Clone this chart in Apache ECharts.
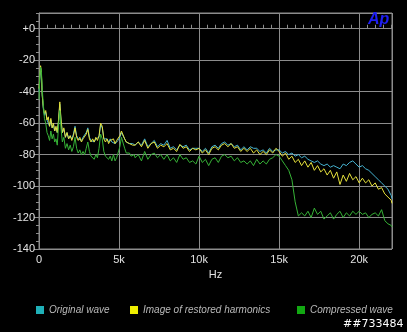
<!DOCTYPE html>
<html>
<head>
<meta charset="utf-8">
<script src="https://cdn.jsdelivr.net/npm/echarts@6/dist/echarts.min.js"></script>
<style>
  html, body { margin: 0; padding: 0; background: #000; }
  #chart { width: 407px; height: 332px; }
</style>
</head>
<body>
<div id="chart"></div>
<script>
// Frequency bins (Hz) of the spectrum trace: fine spacing below 6 kHz, 200 Hz above
const freqHz = [
  0, 50, 100, 150, 200, 270, 340, 420, 500, 580, 660, 740, 820, 900, 980, 1060, 1140, 1220, 1300, 1380,
  1460, 1550, 1650, 1750, 1850, 1950, 2050, 2150, 2250, 2350, 2450, 2550, 2650, 2750, 2850, 2950, 3050, 3150,
  3250, 3350, 3450, 3550, 3650, 3750, 3850, 3950, 4050, 4150, 4250, 4350, 4450, 4550, 4650, 4750, 4850, 4950,
  5050, 5150, 5250, 5350, 5450, 5550, 5650, 5750, 5850, 5950,
  6000, 6200, 6400, 6600, 6800, 7000, 7200, 7400, 7600, 7800,
  8000, 8200, 8400, 8600, 8800, 9000, 9200, 9400, 9600, 9800,
  10000, 10200, 10400, 10600, 10800, 11000, 11200, 11400, 11600, 11800,
  12000, 12200, 12400, 12600, 12800, 13000, 13200, 13400, 13600, 13800,
  14000, 14200, 14400, 14600, 14800, 15000, 15200, 15400, 15600, 15800,
  16000, 16200, 16400, 16600, 16800, 17000, 17200, 17400, 17600, 17800,
  18000, 18200, 18400, 18600, 18800, 19000, 19200, 19400, 19600, 19800,
  20000, 20200, 20400, 20600, 20800, 21000, 21200, 21400, 21600, 21800,
  22000, 22050
];

// Level (dB) of the original wave
const originalDb = [
  -40, -32, -25, -29, -42, -51, -55, -53, -58, -57, -62, -58, -63, -61, -65, -63, -66, -59, -48, -59,
  -66, -64, -69, -66, -70, -68, -70, -67, -62, -68, -70, -69, -71, -69, -70, -66, -63, -69,
  -71, -70, -72, -70, -71, -69, -61, -63, -70, -71, -70, -72, -70, -72, -71, -73, -72, -71,
  -69, -66, -65, -70, -72, -72, -73, -72, -73, -73,
  -74, -72, -74, -70, -75, -73, -71, -75, -73, -74,
  -71, -76, -75, -77, -74, -75, -74, -77, -76, -76,
  -76, -78, -76, -79, -75, -74, -76, -73, -72, -74,
  -73, -75, -74, -77, -75, -77, -75, -76, -76, -78,
  -77, -79, -76, -78, -77, -77, -79, -78, -80, -79,
  -81, -80, -82, -81, -83, -84, -85, -84, -86, -87,
  -86, -88, -87, -88, -89, -86, -87, -85, -84, -86,
  -88, -87, -89, -90, -92, -94, -96, -98, -100, -102,
  -106, -108
];

// Level (dB) of the restored-harmonics image
const restoredDb = [
  -38, -30, -23.5, -28, -42, -50, -54, -52, -58, -56, -62, -57, -63, -60, -65, -62, -66, -58, -46.5, -58,
  -66, -63, -69, -66, -70, -68, -71, -68, -63, -69, -71, -69, -72, -70, -71, -67, -64, -70,
  -72, -70, -72, -69, -71, -68, -60, -62, -70, -72, -70, -73, -71, -72, -70, -73, -71, -72,
  -68, -65, -64.5, -70, -72, -71, -73, -72, -74, -73,
  -74, -72, -75, -71, -76, -73, -72, -76, -74, -75,
  -73, -77, -76, -78, -73.5, -76, -75, -78, -76, -77,
  -76, -79, -77, -80, -76, -75, -77, -74, -73, -75,
  -73, -76, -75, -78, -76, -78, -76, -79, -77, -80,
  -78, -80, -77, -79, -76, -78, -81, -79, -83, -81,
  -85, -83, -87, -84, -88, -85, -90, -87, -91, -89,
  -93, -90, -95, -91, -99, -93, -97, -92, -96, -94,
  -98, -95, -98, -96, -100, -98, -102, -101, -105, -107,
  -109, -111
];

// Level (dB) of the compressed wave
const compressedDb = [
  -45, -30, -24.5, -27, -38, -48, -57, -60, -66, -68, -71, -65, -70, -67, -72, -70, -74, -62, -52, -64,
  -72, -69, -76, -73, -77, -74, -78, -75, -69, -76, -79, -77, -80, -78, -80, -76, -72, -78,
  -81, -80, -83, -80, -82, -76, -67, -70, -78, -81, -80, -83, -81, -84, -80, -84, -82, -81,
  -75, -69, -68, -76, -79, -80, -79, -81, -82, -80,
  -82, -80, -84, -78, -83, -80, -79, -82, -80, -83,
  -80, -84, -82, -85, -80, -83, -82, -85, -84, -86,
  -81, -85, -83, -87, -83, -82, -85, -81, -80, -82,
  -81, -84, -82, -85, -84, -86, -84, -87, -83, -86,
  -84, -86, -83, -82, -80, -81, -84, -87, -90, -96,
  -110, -119, -117, -119, -116, -120, -114, -118, -116, -121,
  -119, -117, -121, -118, -116, -120, -117, -119, -116, -118,
  -116, -118, -117, -120, -118, -117, -119, -115, -122, -124,
  -125, -126
];

const seriesNames = ['Original wave', 'Image of restored harmonics', 'Compressed wave'];
const xTickLabels = { 0: '0', 5000: '5k', 10000: '10k', 15000: '15k', 20000: '20k' };

const gridColor = '#8c8c8c';
const labelColor = '#e2e2e2';
const fontFamily = '"Liberation Sans", Arial, sans-serif';

function pairs(values) {
  return freqHz.map((f, i) => [f, values[i]]);
}

const chart = echarts.init(document.getElementById('chart'), null, { renderer: 'canvas' });

const legendBase = {
  icon: 'rect',
  itemWidth: 8,
  itemHeight: 8,
  padding: 0,
  top: 305,
  textStyle: { color: '#b9b9b9', fontStyle: 'italic', fontSize: 10, fontFamily: fontFamily }
};

chart.setOption({
  animation: false,
  backgroundColor: '#000',
  grid: { left: 39, top: 13, right: 15, bottom: 83, show: true, borderColor: gridColor, borderWidth: 1 },
  legend: [
    Object.assign({ data: [seriesNames[0]], left: 36 }, legendBase),
    Object.assign({ data: [seriesNames[1]], left: 130 }, legendBase),
    Object.assign({ data: [seriesNames[2]], left: 297 }, legendBase)
  ],
  xAxis: [
    {
      type: 'value', min: 0, max: 22050, interval: 5000,
      axisLine: { lineStyle: { color: gridColor } },
      axisTick: { show: false },
      splitLine: { show: true, lineStyle: { color: gridColor, width: 1 } },
      axisLabel: {
        color: labelColor, fontSize: 11, fontFamily: fontFamily, margin: 5,
        showMaxLabel: false,
        formatter: v => xTickLabels[v] !== undefined ? xTickLabels[v] : ''
      },
      name: 'Hz', nameLocation: 'middle', nameGap: 18,
      nameTextStyle: { color: labelColor, fontSize: 11, fontFamily: fontFamily }
    },
    {
      type: 'value', min: 0, max: 22050, interval: 500, position: 'bottom',
      axisLine: { show: false },
      axisTick: { show: true, inside: true, length: 4, lineStyle: { color: gridColor } },
      axisLabel: { show: false },
      splitLine: { show: false }
    }
  ],
  yAxis: [
    {
      type: 'value', min: -140, max: 10, interval: 20,
      axisLine: { show: true, lineStyle: { color: gridColor } },
      axisTick: { show: true, length: 5, lineStyle: { color: gridColor } },
      splitLine: { show: true, lineStyle: { color: gridColor, width: 1 } },
      axisLabel: {
        color: labelColor, fontSize: 11, fontFamily: fontFamily, margin: 4,
        showMaxLabel: false,
        formatter: v => v === 0 ? '+0' : (v > 0 ? '' : String(v))
      }
    },
    {
      type: 'value', min: -140, max: 10, interval: 5, position: 'left',
      axisLine: { show: false },
      axisTick: { show: true, length: 3, lineStyle: { color: gridColor } },
      axisLabel: { show: false },
      splitLine: { show: false }
    }
  ],
  series: [
    {
      name: seriesNames[0], type: 'line', data: pairs(originalDb), showSymbol: false,
      itemStyle: { color: '#1fb0b8' }, lineStyle: { color: '#46b4d2', width: 1 }
    },
    {
      name: seriesNames[1], type: 'line', data: pairs(restoredDb), showSymbol: false,
      itemStyle: { color: '#eeee00' }, lineStyle: { color: '#e6e23c', width: 1 }
    },
    {
      name: seriesNames[2], type: 'line', data: pairs(compressedDb), showSymbol: false,
      itemStyle: { color: '#12a812' }, lineStyle: { color: '#36b236', width: 1 }
    }
  ],
  graphic: [
    {
      type: 'text', left: 368, top: 12, z: 100,
      style: { text: 'Ap', fill: '#1e1ef2', font: 'italic bold 16px "Liberation Sans", Arial, sans-serif' }
    },
    {
      type: 'text', left: 343, top: 319, z: 100,
      style: { text: '##733484', fill: '#ffffff', font: '11px "DejaVu Sans", sans-serif' }
    }
  ]
});
</script>
</body>
</html>
